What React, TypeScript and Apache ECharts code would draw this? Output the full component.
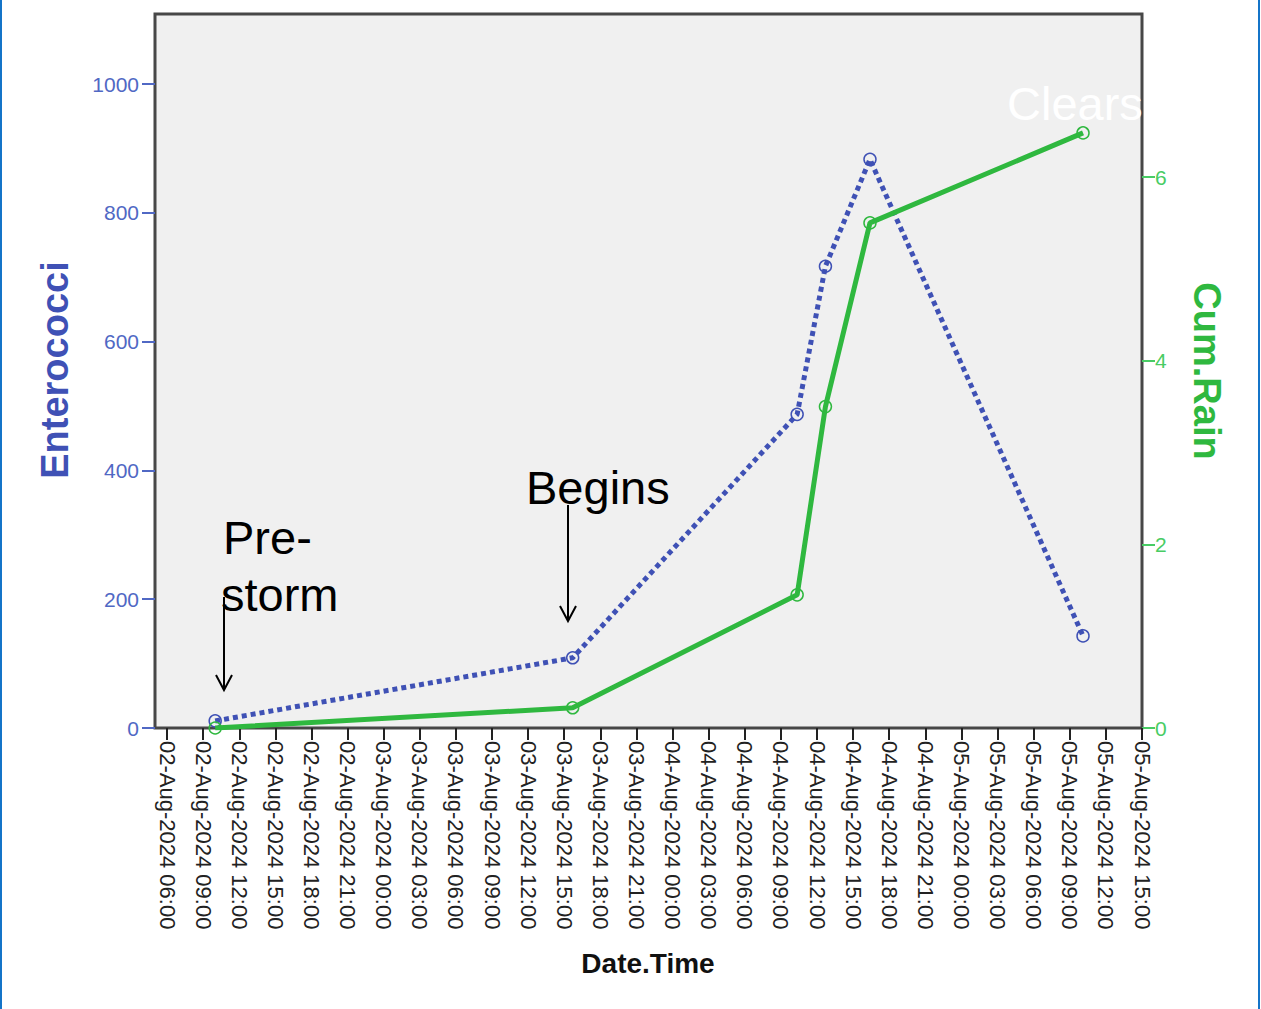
import React, { useEffect, useRef } from "react";
import * as echarts from "echarts";

// Hours elapsed since 02-Aug-2024 00:00
const sampleHours = [10, 39.7, 58.35, 60.7, 64.4, 82.1];
const enterococci = [11, 109, 487, 717, 883, 143];
const cumRain = [0, 0.22, 1.45, 3.5, 5.5, 6.48];

const xTickHours = [
  6, 9, 12, 15, 18, 21, 24, 27, 30, 33, 36, 39, 42, 45, 48, 51, 54, 57, 60, 63,
  66, 69, 72, 75, 78, 81, 84, 87,
];
const leftTicks = [0, 200, 400, 600, 800, 1000];
const rightTicks = [0, 2, 4, 6];

const FONT = '"Liberation Sans", Arial, sans-serif';
const BLUE = "#3f51b5";
const BLUE_LABEL = "#5068c4";
const GREEN = "#2fb83f";
const GREEN_LABEL = "#48cc64";

function fmtHour(h: number): string {
  const day = 2 + Math.floor(h / 24);
  const hh = h % 24;
  const p = (n: number) => (n < 10 ? "0" + n : "" + n);
  return `${p(day)}-Aug-2024 ${p(hh)}:00`;
}

export default function App() {
  const ref = useRef<HTMLDivElement>(null);
  useEffect(() => {
    if (!ref.current) return;
    const chart = echarts.init(ref.current, undefined, { renderer: "svg" });
    const gl = 155,
      gt = 14,
      gw = 987,
      gh = 714;
    chart.setOption({
      animation: false,
      backgroundColor: "#ffffff",
      grid: { left: gl, top: gt, width: gw, height: gh, containLabel: false },
      xAxis: {
        type: "value",
        min: 5,
        max: 87,
        axisLine: { show: false },
        splitLine: { show: false },
        axisTick: {
          show: true,
          customValues: xTickHours,
          length: 12,
          lineStyle: { color: "#222", width: 2 },
        },
        axisLabel: {
          customValues: xTickHours,
          rotate: -90,
          margin: 13,
          fontSize: 22,
          fontFamily: FONT,
          color: "#222",
          formatter: (v: number) => fmtHour(v),
        },
      },
      yAxis: [
        {
          type: "value",
          min: 0,
          max: 1108.7,
          position: "left",
          axisLine: { show: false },
          splitLine: { show: false },
          axisTick: {
            show: true,
            customValues: leftTicks,
            length: 13,
            lineStyle: { color: BLUE_LABEL, width: 2 },
          },
          axisLabel: {
            customValues: leftTicks,
            margin: 16,
            fontSize: 21,
            fontFamily: FONT,
            color: BLUE_LABEL,
            formatter: (v: number) => String(v),
          },
        },
        {
          type: "value",
          min: 0,
          max: 7.775,
          position: "right",
          axisLine: { show: false },
          splitLine: { show: false },
          axisTick: {
            show: true,
            customValues: rightTicks,
            length: 13,
            lineStyle: { color: GREEN_LABEL, width: 2 },
          },
          axisLabel: {
            customValues: rightTicks,
            margin: 13,
            fontSize: 21,
            fontFamily: FONT,
            color: GREEN_LABEL,
            formatter: (v: number) => String(v),
          },
        },
      ],
      series: [
        {
          name: "Enterococci",
          type: "line",
          yAxisIndex: 0,
          z: 3,
          data: sampleHours.map((h, i) => [h, enterococci[i]]),
          symbol: "circle",
          symbolSize: 12,
          lineStyle: { color: BLUE, width: 5, type: [5, 4] },
          itemStyle: {
            color: "rgba(0,0,0,0)",
            borderColor: BLUE,
            borderWidth: 1.5,
          },
        },
        {
          name: "Cum.Rain",
          type: "line",
          yAxisIndex: 1,
          z: 4,
          data: sampleHours.map((h, i) => [h, cumRain[i]]),
          symbol: "circle",
          symbolSize: 12,
          lineStyle: { color: GREEN, width: 5 },
          itemStyle: {
            color: "rgba(0,0,0,0)",
            borderColor: GREEN,
            borderWidth: 1.5,
          },
        },
      ],
      graphic: [
        {
          type: "rect",
          z: -10,
          silent: true,
          shape: { x: gl, y: gt, width: gw, height: gh },
          style: { fill: "#f0f0f0", stroke: "#474747", lineWidth: 3 },
        },
        {
          type: "rect",
          silent: true,
          shape: { x: 0, y: 0, width: 2, height: 1009 },
          style: { fill: "#1474c8" },
        },
        {
          type: "rect",
          silent: true,
          shape: { x: 1258, y: 0, width: 2, height: 1009 },
          style: { fill: "#1474c8" },
        },
        {
          type: "text",
          x: 55,
          y: 370,
          rotation: Math.PI / 2,
          style: {
            text: "Enterococci",
            font: `bold 38px ${FONT}`,
            fill: BLUE,
            textAlign: "center",
            textVerticalAlign: "middle",
          },
        },
        {
          type: "text",
          x: 1207,
          y: 371,
          rotation: -Math.PI / 2,
          style: {
            text: "Cum.Rain",
            font: `bold 38px ${FONT}`,
            fill: GREEN,
            textAlign: "center",
            textVerticalAlign: "middle",
          },
        },
        {
          type: "text",
          x: 648,
          y: 963,
          style: {
            text: "Date.Time",
            font: `bold 28px ${FONT}`,
            fill: "#111",
            textAlign: "center",
            textVerticalAlign: "middle",
          },
        },
        {
          type: "text",
          x: 223,
          y: 537,
          z: 10,
          style: {
            text: "Pre-",
            font: `47px ${FONT}`,
            fill: "#000",
            textAlign: "left",
            textVerticalAlign: "middle",
          },
        },
        {
          type: "text",
          x: 221,
          y: 594,
          z: 10,
          style: {
            text: "storm",
            font: `47px ${FONT}`,
            fill: "#000",
            textAlign: "left",
            textVerticalAlign: "middle",
          },
        },
        {
          type: "text",
          x: 526,
          y: 487,
          z: 10,
          style: {
            text: "Begins",
            font: `47px ${FONT}`,
            fill: "#000",
            textAlign: "left",
            textVerticalAlign: "middle",
          },
        },
        {
          type: "text",
          x: 1007,
          y: 103,
          z: 10,
          style: {
            text: "Clears",
            font: `47px ${FONT}`,
            fill: "#ffffff",
            textAlign: "left",
            textVerticalAlign: "middle",
          },
        },
        {
          type: "line",
          z: 10,
          shape: { x1: 224, y1: 597, x2: 224, y2: 689 },
          style: { stroke: "#000", lineWidth: 2 },
        },
        {
          type: "polyline",
          z: 10,
          shape: {
            points: [
              [216, 675],
              [224, 690],
              [232, 675],
            ],
          },
          style: { stroke: "#000", lineWidth: 2, fill: null },
        },
        {
          type: "line",
          z: 10,
          shape: { x1: 568, y1: 505, x2: 568, y2: 620 },
          style: { stroke: "#000", lineWidth: 2 },
        },
        {
          type: "polyline",
          z: 10,
          shape: {
            points: [
              [560, 606],
              [568, 621],
              [576, 606],
            ],
          },
          style: { stroke: "#000", lineWidth: 2, fill: null },
        },
      ],
    });
    return () => chart.dispose();
  }, []);
  return (
    <div
      ref={ref}
      style={{
        position: "fixed",
        left: 0,
        top: 0,
        width: 1261,
        height: 1009,
        background: "#fff",
      }}
    />
  );
}
